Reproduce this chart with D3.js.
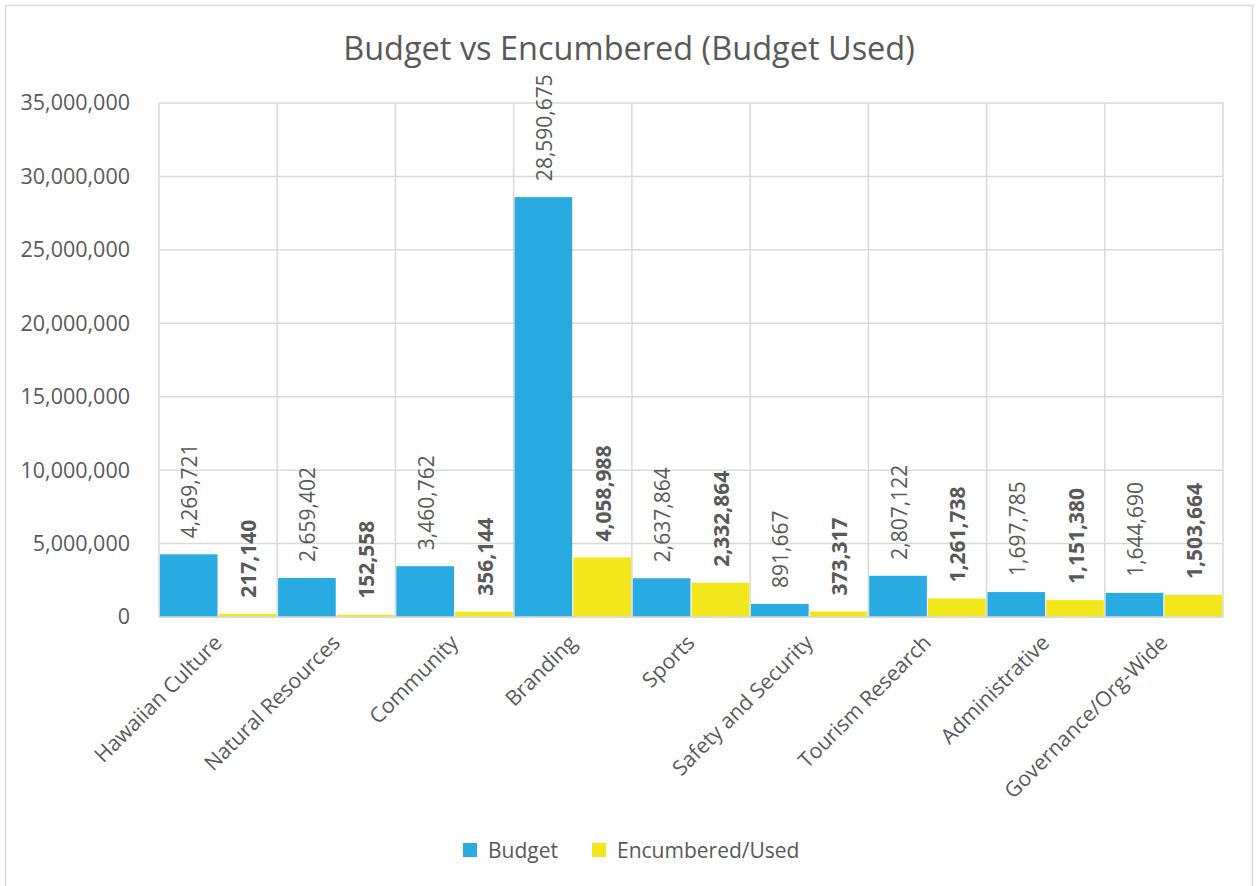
<!DOCTYPE html>
<html>
<head>
<meta charset="utf-8">
<script src="https://cdn.jsdelivr.net/npm/d3@7"></script>
<style>
  html, body { margin: 0; padding: 0; background: #fff; }
  svg { display: block; font-family: "Open Sans", "Noto Sans", sans-serif; }
</style>
</head>
<body>
<svg id="chart" width="1259" height="886"></svg>
<script>
// Program areas and their budget vs. encumbered amounts
const categories = ["Hawaiian Culture", "Natural Resources", "Community", "Branding", "Sports",
  "Safety and Security", "Tourism Research", "Administrative", "Governance/Org-Wide"];
const budget = [4269721, 2659402, 3460762, 28590675, 2637864, 891667, 2807122, 1697785, 1644690];
const encumbered = [217140, 152558, 356144, 4058988, 2332864, 373317, 1261738, 1151380, 1503664];
const seriesNames = ["Budget", "Encumbered/Used"];
const seriesColors = ["#29abe2", "#f1e71a"];
const yTicks = [0, 5000000, 10000000, 15000000, 20000000, 25000000, 30000000, 35000000];
const titleText = "Budget vs Encumbered (Budget Used)";

const svg = d3.select("#chart");
const W = 1259, H = 886;
const margin = { left: 159, right: 36, top: 103, bottom: 269 };
const plotW = W - margin.left - margin.right;
const plotH = H - margin.top - margin.bottom;
const textColor = "#595959";
const gridColor = "#d9d9d9";
const fmt = d3.format(",");

// outer chart frame
svg.append("rect")
  .attr("x", 5.5).attr("y", 5.5)
  .attr("width", 1247).attr("height", 900)
  .attr("fill", "#fff").attr("stroke", "#d9d9d9").attr("stroke-width", 1.5);

// title
svg.append("text")
  .attr("x", 629).attr("y", 60)
  .attr("text-anchor", "middle")
  .attr("fill", textColor)
  .attr("font-size", 32.5)
  .text(titleText);

const g = svg.append("g").attr("transform", `translate(${margin.left},${margin.top})`);

const x0 = d3.scaleBand().domain(categories).range([0, plotW]).paddingInner(0).paddingOuter(0);
const x1 = d3.scaleBand().domain(seriesNames).range([0, x0.bandwidth()]).paddingInner(0.02).paddingOuter(0.015);
const y = d3.scaleLinear().domain([0, 35000000]).range([plotH, 0]);

// horizontal gridlines
g.append("g").selectAll("line").data(yTicks).join("line")
  .attr("x1", 0).attr("x2", plotW)
  .attr("y1", d => y(d)).attr("y2", d => y(d))
  .attr("stroke", gridColor).attr("stroke-width", 1.5);

// vertical gridlines at category boundaries
const edges = categories.map(c => x0(c)).concat([plotW]);
g.append("g").selectAll("line").data(edges).join("line")
  .attr("x1", d => d).attr("x2", d => d)
  .attr("y1", 0).attr("y2", plotH)
  .attr("stroke", gridColor).attr("stroke-width", 1.5);

// y axis labels
const yAxis = d3.axisLeft(y).tickValues(yTicks).tickFormat(fmt).tickSize(0).tickPadding(29);
const yg = g.append("g").call(yAxis);
yg.select(".domain").remove();
yg.selectAll("text").attr("fill", textColor).attr("font-size", 21.5).attr("font-family", "Open Sans");

// bars
const rows = categories.map((c, i) => ({ cat: c, vals: [budget[i], encumbered[i]] }));
const groups = g.append("g").selectAll("g").data(rows).join("g")
  .attr("transform", d => `translate(${x0(d.cat)},0)`);

groups.selectAll("rect").data(d => d.vals.map((v, k) => ({ v, k }))).join("rect")
  .attr("x", d => x1(seriesNames[d.k]))
  .attr("width", x1.bandwidth())
  .attr("y", d => y(d.v))
  .attr("height", d => plotH - y(d.v))
  .attr("fill", d => seriesColors[d.k]);

// rotated value labels above each bar
groups.selectAll("text").data(d => d.vals.map((v, k) => ({ v, k }))).join("text")
  .attr("transform", d => `translate(${x1(seriesNames[d.k]) + x1.bandwidth() / 2 + 1},${y(d.v) - 16}) rotate(-90)`)
  .attr("dy", "0.36em")
  .attr("text-anchor", "start")
  .attr("fill", textColor)
  .attr("font-size", 21)
  .attr("font-weight", d => d.k === 1 ? "bold" : "normal")
  .text(d => fmt(d.v));

// bottom axis line
g.append("line")
  .attr("x1", 0).attr("x2", plotW)
  .attr("y1", plotH).attr("y2", plotH)
  .attr("stroke", gridColor).attr("stroke-width", 1.5);

// category labels, rotated 45°
g.append("g").selectAll("text").data(categories).join("text")
  .attr("transform", d => `translate(${x0(d) + x0.bandwidth() / 2 + 5},${plotH + 27}) rotate(-45)`)
  .attr("text-anchor", "end")
  .attr("fill", textColor)
  .attr("font-size", 21.2)
  .text(d => d);

// legend
const legend = svg.append("g").attr("transform", "translate(463,843)");
const legendX = [0, 129];
seriesNames.forEach((name, i) => {
  const item = legend.append("g").attr("transform", `translate(${legendX[i]},0)`);
  item.append("rect").attr("width", 14).attr("height", 14).attr("fill", seriesColors[i]);
  item.append("text").attr("x", 25).attr("y", 14.5).attr("fill", textColor)
    .attr("font-size", 21).text(name);
});
</script>
</body>
</html>
